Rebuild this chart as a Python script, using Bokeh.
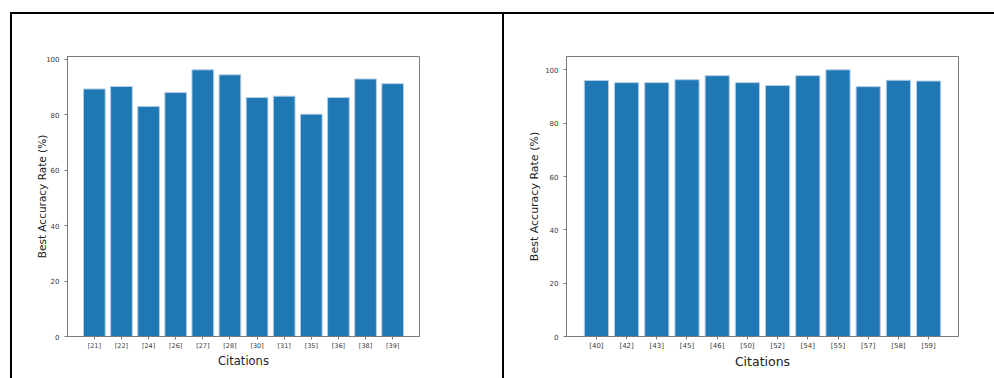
from bokeh.plotting import figure
from bokeh.layouts import row, column
from bokeh.models import FixedTicker, Range1d, Div
from bokeh.embed import file_html
from bokeh.resources import INLINE

# ---- data ----
left_labels = ["[21]", "[22]", "[24]", "[26]", "[27]", "[28]", "[30]", "[31]", "[35]", "[36]", "[38]", "[39]"]
left_values = [89.3, 90.2, 83.0, 88.0, 96.2, 94.4, 86.2, 86.7, 80.2, 86.2, 92.9, 91.2]

right_labels = ["[40]", "[42]", "[43]", "[45]", "[46]", "[50]", "[52]", "[54]", "[55]", "[57]", "[58]", "[59]"]
right_values = [96.0, 95.2, 95.2, 96.3, 97.8, 95.2, 94.1, 97.8, 100.0, 93.7, 96.1, 95.8]

y_ticks = [0, 20, 40, 60, 80, 100]

BAR = "#1f77b4"
SPINE = "#7a7a7a"
TXT = "#3a3a3a"
FONT = "DejaVu Sans"


def bar_chart(labels, values, width, height, bl, br, bt, bb,
              xtick_size, ytick_size, xlab_size, ylab_size, ylab_standoff):
    n = len(labels)
    idx = list(range(n))
    p = figure(width=width, height=height, output_backend="svg", toolbar_location=None,
               x_range=Range1d(-0.99, n - 1 + 0.99), y_range=Range1d(0, max(values) * 1.05),
               min_border_left=bl, min_border_right=br, min_border_top=bt, min_border_bottom=bb)
    p.vbar(x=idx, top=values, width=0.8, bottom=0, fill_color=BAR,
           line_color="#b3cde6", line_width=1)
    p.xgrid.visible = False
    p.ygrid.visible = False
    p.outline_line_color = SPINE
    p.outline_line_width = 1
    p.background_fill_color = "white"
    p.border_fill_color = "white"

    xa = p.xaxis[0]
    xa.ticker = FixedTicker(ticks=idx)
    xa.major_label_overrides = {i: lab for i, lab in enumerate(labels)}
    xa.minor_tick_line_color = None
    xa.major_tick_in = 0
    xa.major_tick_out = 3
    xa.major_tick_line_color = SPINE
    xa.axis_line_color = SPINE
    xa.major_label_standoff = 2
    xa.major_label_text_font = FONT
    xa.major_label_text_font_size = f"{xtick_size}px"
    xa.major_label_text_color = TXT
    xa.axis_label = "Citations"
    xa.axis_label_text_font = FONT
    xa.axis_label_text_font_style = "normal"
    xa.axis_label_text_font_size = f"{xlab_size}px"
    xa.axis_label_text_color = "#222222"
    xa.axis_label_standoff = 1

    ya = p.yaxis[0]
    ya.ticker = FixedTicker(ticks=y_ticks)
    ya.minor_tick_line_color = None
    ya.major_tick_in = 0
    ya.major_tick_out = 3
    ya.major_tick_line_color = SPINE
    ya.axis_line_color = SPINE
    ya.major_label_standoff = 5
    ya.major_label_text_font = FONT
    ya.major_label_text_font_size = f"{ytick_size}px"
    ya.major_label_text_color = TXT
    ya.axis_label = "Best Accuracy Rate (%)"
    ya.axis_label_text_font = FONT
    ya.axis_label_text_font_style = "normal"
    ya.axis_label_text_font_size = f"{ylab_size}px"
    ya.axis_label_text_color = "#222222"
    ya.axis_label_standoff = ylab_standoff
    return p


BODY_H = 364
p1 = bar_chart(left_labels, left_values, 490, BODY_H, 55, 83, 42, 42,
               6.5, 7, 11.5, 10.5, -5)
p2 = bar_chart(right_labels, right_values, 490, BODY_H, 62, 36, 42, 41,
               7, 7, 12.5, 11, 1)


def block(w, h, color):
    return Div(text="", width=w, height=h, margin=0,
               styles={"background-color": color, "padding": "0px", "margin": "0px"})


top = row(block(10, 12, "white"), block(984, 12, "white"), margin=0)
line = row(block(10, 2, "white"), block(984, 2, "black"), margin=0)
body = row(block(10, BODY_H, "white"), block(2, BODY_H, "black"), p1,
           block(2, BODY_H, "black"), p2, margin=0)

layout = column(top, line, body, margin=0)

open("out.html", "w").write(file_html(layout, INLINE))
